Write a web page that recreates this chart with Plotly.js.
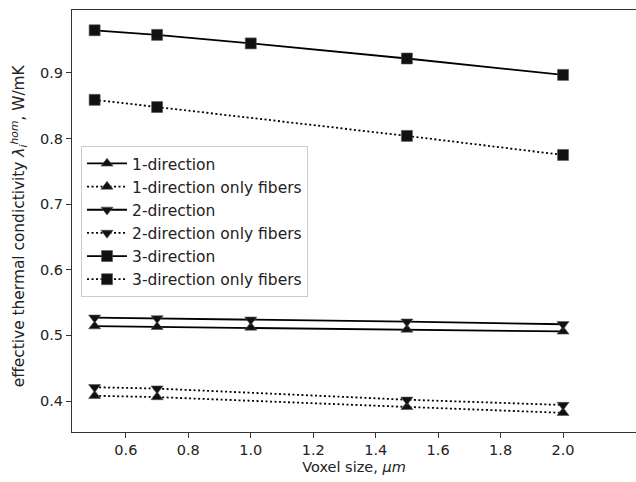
<!DOCTYPE html>
<html>
<head>
<meta charset="utf-8">
<script src="https://cdn.plot.ly/plotly-3.0.1.min.js"></script>
<style>html,body{margin:0;padding:0;background:#fff;}#chart{width:636px;height:482px;}</style>
</head>
<body>
<div id="chart"></div>
<script>
const voxelAll = [0.5, 0.7, 1.0, 1.5, 2.0];
const voxelFib = [0.5, 0.7, 1.5, 2.0];
const dir1 = [0.514, 0.513, 0.512, 0.509, 0.506];
const dir1Fib = [0.408, 0.406, 0.391, 0.382];
const dir2 = [0.527, 0.526, 0.524, 0.521, 0.517];
const dir2Fib = [0.421, 0.419, 0.402, 0.394];
const dir3 = [0.965, 0.958, 0.945, 0.922, 0.897];
const dir3Fib = [0.859, 0.848, 0.804, 0.775];
const names = ["1-direction", "1-direction only fibers", "2-direction", "2-direction only fibers", "3-direction", "3-direction only fibers"];
const xTicks = [0.6, 0.8, 1.0, 1.2, 1.4, 1.6, 1.8, 2.0];
const xTickText = ['0.6', '0.8', '1.0', '1.2', '1.4', '1.6', '1.8', '2.0'];
const yTicks = [0.4, 0.5, 0.6, 0.7, 0.8, 0.9];
const yTickText = ['0.4', '0.5', '0.6', '0.7', '0.8', '0.9'];

function tr(x, y, name, sym, dash, i) {
  const sz = sym === 'square' ? 11 : 10.5;
  return {
    x: x, y: y, name: name, type: 'scatter', mode: 'lines+markers', legendgroup: 'g' + i,
    line: {color: '#000', width: 1.8, dash: dash},
    marker: {symbol: sym, size: sz, color: '#111', line: {color: '#555', width: 0.6}}
  };
}
const DOT = '2px,2.5px';
const data = [
  tr(voxelAll, dir1, names[0], 'triangle-up', 'solid', 0),
  tr(voxelFib, dir1Fib, names[1], 'triangle-up', DOT, 1),
  tr(voxelAll, dir2, names[2], 'triangle-down', 'solid', 2),
  tr(voxelFib, dir2Fib, names[3], 'triangle-down', DOT, 3),
  tr(voxelAll, dir3, names[4], 'square', 'solid', 4),
  tr(voxelFib, dir3Fib, names[5], 'square', DOT, 5)
];
const tickFont = {family: 'DejaVu Sans', size: 14.5, color: '#222'};
const layout = {
  width: 636, height: 482,
  margin: {l: 72, r: 0, t: 10, b: 50},
  paper_bgcolor: '#fff', plot_bgcolor: '#fff',
  showlegend: true,
  font: {family: 'DejaVu Sans', size: 14.5, color: '#222'},
  xaxis: {
    range: [0.4275, 2.2336],
    tickvals: xTicks, ticktext: xTickText,
    ticks: 'outside', ticklen: 5, tickwidth: 1, tickcolor: '#333',
    showline: true, linecolor: '#333', linewidth: 1, mirror: true,
    showgrid: false, zeroline: false, tickfont: tickFont,
    title: {text: 'Voxel size, <i>μm</i>', font: {family: 'DejaVu Sans', size: 14.5, color: '#222'}, standoff: 4}
  },
  yaxis: {
    range: [0.3528, 0.9959],
    tickvals: yTicks, ticktext: yTickText,
    ticks: 'outside', ticklen: 5, tickwidth: 1, tickcolor: '#333',
    showline: true, linecolor: '#333', linewidth: 1, mirror: false,
    showgrid: false, zeroline: false, tickfont: tickFont
  },
  annotations: [{
    xref: 'paper', yref: 'paper', x: -0.094, y: 0.49, xanchor: 'center', yanchor: 'middle',
    textangle: -90, showarrow: false,
    text: 'effective thermal condictivity <i>λ</i><sub><i>i</i></sub><sup><i>hom</i></sup>, W/mK',
    font: {family: 'DejaVu Sans', size: 15.4, color: '#222'}
  }],
  legend: {
    x: 0.016, y: 0.678, xanchor: 'left', yanchor: 'top',
    bgcolor: 'rgba(255,255,255,0.9)', bordercolor: '#ccc', borderwidth: 1,
    font: {family: 'DejaVu Sans', size: 15.5, color: '#222'},
    tracegroupgap: 0, itemwidth: 40
  }
};
Plotly.newPlot('chart', data, layout, {displayModeBar: false, staticPlot: true});
</script>
</body>
</html>
